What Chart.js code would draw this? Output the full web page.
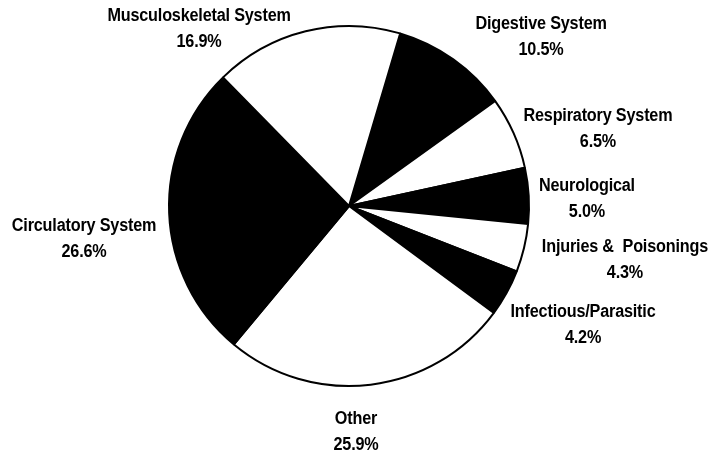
<!DOCTYPE html>
<html>
<head>
<meta charset="utf-8">
<style>
  html, body { margin: 0; padding: 0; background: #fff; }
  #wrap { width: 714px; height: 458px; position: relative; }
</style>
<script src="https://cdn.jsdelivr.net/npm/chart.js@4.4.1/dist/chart.umd.min.js"></script>
</head>
<body>
<div id="wrap"><canvas id="pie"></canvas></div>
<script>
// ── Data ──────────────────────────────────────────────────────
const categories = [
  'Digestive System',
  'Respiratory System',
  'Neurological',
  'Injuries &  Poisonings',
  'Infectious/Parasitic',
  'Other',
  'Circulatory System',
  'Musculoskeletal System',
];
const shares = [10.5, 6.5, 5.0, 4.3, 4.2, 25.9, 26.6, 16.9];
const pctLabels = ['10.5%', '6.5%', '5.0%', '4.3%', '4.2%', '25.9%', '26.6%', '16.9%'];
const fills = ['#000', '#fff', '#000', '#fff', '#000', '#fff', '#000', '#fff'];

// label centres, relative to pie centre in units of radius
const labelSpots = [
  [1.067, -0.939],
  [1.383, -0.425],
  [1.322, -0.036],
  [1.533, 0.300],
  [1.300, 0.664],
  [0.039, 1.256],
  [-1.472, 0.181],
  [-0.833, -0.981],
];

const FONT = "bold 18px 'Liberation Sans', Arial, sans-serif";
const SQUEEZE = 0.9; // condensed look of the original type

// ── Label plugin ──────────────────────────────────────────────
const sliceLabels = {
  id: 'sliceLabels',
  afterDatasetsDraw(chart) {
    const { ctx } = chart;
    const arcs = chart.getDatasetMeta(0).data;
    ctx.save();
    ctx.fillStyle = '#000';
    ctx.font = FONT;
    ctx.letterSpacing = '-0.2px';
    ctx.textAlign = 'center';
    ctx.textBaseline = 'middle';
    arcs.forEach((arc, i) => {
      const r = arc.outerRadius;
      const x = arc.x + labelSpots[i][0] * r;
      const y = arc.y + labelSpots[i][1] * r;
      ctx.save();
      ctx.translate(x, y);
      ctx.scale(SQUEEZE, 1);
      ctx.fillText(categories[i], 0, -13);
      ctx.fillText(pctLabels[i], 0, 13);
      ctx.restore();
    });
    ctx.restore();
  },
};

new Chart(document.getElementById('pie'), {
  type: 'pie',
  data: {
    labels: categories,
    datasets: [{
      data: shares,
      backgroundColor: fills,
      borderColor: '#000',
      borderWidth: 2,
    }],
  },
  options: {
    responsive: true,
    maintainAspectRatio: false,
    animation: false,
    rotation: 16.5,
    layout: { padding: { top: 25, bottom: 71, left: 0, right: 16 } },
    plugins: {
      legend: { display: false },
      tooltip: { enabled: false },
    },
  },
  plugins: [sliceLabels],
});
</script>
</body>
</html>
